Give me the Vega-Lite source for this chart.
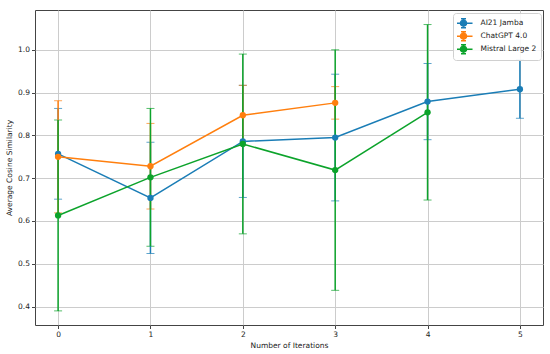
{
  "$schema": "https://vega.github.io/schema/vega-lite/v6.json",
  "width": 508,
  "height": 315,
  "autosize": "none",
  "padding": {"left": 35, "top": 10, "right": 7, "bottom": 29},
  "background": "white",
  "config": {
    "font": "DejaVu Sans",
    "view": {"stroke": "#444444", "strokeWidth": 1},
    "axis": {
      "domain": false,
      "grid": true,
      "gridColor": "#cccccc",
      "gridWidth": 1,
      "tickColor": "#444444",
      "tickSize": 3.5,
      "labelFontSize": 7.5,
      "labelColor": "#222",
      "titleFontSize": 7.5,
      "titleFontWeight": "normal",
      "titleColor": "#222",
      "labelPadding": 2
    }
  },
  "data": {
    "values": [
      {"model": "AI21 Jamba", "iter": 0, "mean": 0.757, "err": 0.106},
      {"model": "AI21 Jamba", "iter": 1, "mean": 0.654, "err": 0.13},
      {"model": "AI21 Jamba", "iter": 2, "mean": 0.786, "err": 0.131},
      {"model": "AI21 Jamba", "iter": 3, "mean": 0.795, "err": 0.148},
      {"model": "AI21 Jamba", "iter": 4, "mean": 0.879, "err": 0.089},
      {"model": "AI21 Jamba", "iter": 5, "mean": 0.908, "err": 0.068},
      {"model": "ChatGPT 4.0", "iter": 0, "mean": 0.750, "err": 0.131},
      {"model": "ChatGPT 4.0", "iter": 1, "mean": 0.728, "err": 0.1},
      {"model": "ChatGPT 4.0", "iter": 2, "mean": 0.847, "err": 0.07},
      {"model": "ChatGPT 4.0", "iter": 3, "mean": 0.876, "err": 0.038},
      {"model": "Mistral Large 2", "iter": 0, "mean": 0.613, "err": 0.223},
      {"model": "Mistral Large 2", "iter": 1, "mean": 0.702, "err": 0.161},
      {"model": "Mistral Large 2", "iter": 2, "mean": 0.780, "err": 0.21},
      {"model": "Mistral Large 2", "iter": 3, "mean": 0.719, "err": 0.281},
      {"model": "Mistral Large 2", "iter": 4, "mean": 0.854, "err": 0.205}
    ]
  },
  "encoding": {
    "x": {
      "field": "iter", "type": "quantitative",
      "scale": {"domain": [-0.25, 5.25], "nice": false, "zero": false},
      "axis": {"values": [0, 1, 2, 3, 4, 5], "format": "d", "title": "Number of Iterations", "titlePadding": 3}
    },
    "color": {
      "field": "model", "type": "nominal",
      "scale": {"domain": ["AI21 Jamba", "ChatGPT 4.0", "Mistral Large 2"], "range": ["#1a7db6", "#ff7f0e", "#0ca32b"]},
      "legend": {
        "title": null,
        "orient": "top-right",
        "offset": 2.5,
        "fillColor": "rgba(255,255,255,0.85)",
        "strokeColor": "#d0d0d0",
        "cornerRadius": 3,
        "padding": 4,
        "labelFontSize": 7.5,
        "labelColor": "#222",
        "labelOffset": 10.5,
        "rowPadding": 0,
        "clipHeight": 12.3,
        "symbolSize": 121,
        "symbolStrokeWidth": 1.5,
        "symbolType": "M-1.64,0H1.64M0,-0.82V0.82M-0.45,-0.82H0.45M-0.45,0.82H0.45M-0.55,0A0.55,0.55 0 1,0 0.55,0A0.55,0.55 0 1,0 -0.55,0Z",
        "encode": {"symbols": {"update": {"fill": {"scale": "color", "field": "value"}, "fillOpacity": {"value": 1}}}}
      }
    }
  },
  "layer": [
    {
      "mark": {"type": "errorbar", "thickness": 1.5, "ticks": {"size": 8, "thickness": 1}},
      "encoding": {
        "y": {"field": "mean", "type": "quantitative",
          "scale": {"domain": [0.357, 1.093], "nice": false, "zero": false},
          "axis": {"values": [0.4, 0.5, 0.6, 0.7, 0.8, 0.9, 1.0], "format": ".1f", "title": "Average Cosine Similarity", "titlePadding": 4}},
        "yError": {"field": "err"}
      }
    },
    {
      "mark": {"type": "line", "strokeWidth": 1.5},
      "encoding": {"y": {"field": "mean", "type": "quantitative"}}
    },
    {
      "mark": {"type": "point", "filled": true, "size": 40, "opacity": 1},
      "encoding": {"y": {"field": "mean", "type": "quantitative"}}
    }
  ]
}
